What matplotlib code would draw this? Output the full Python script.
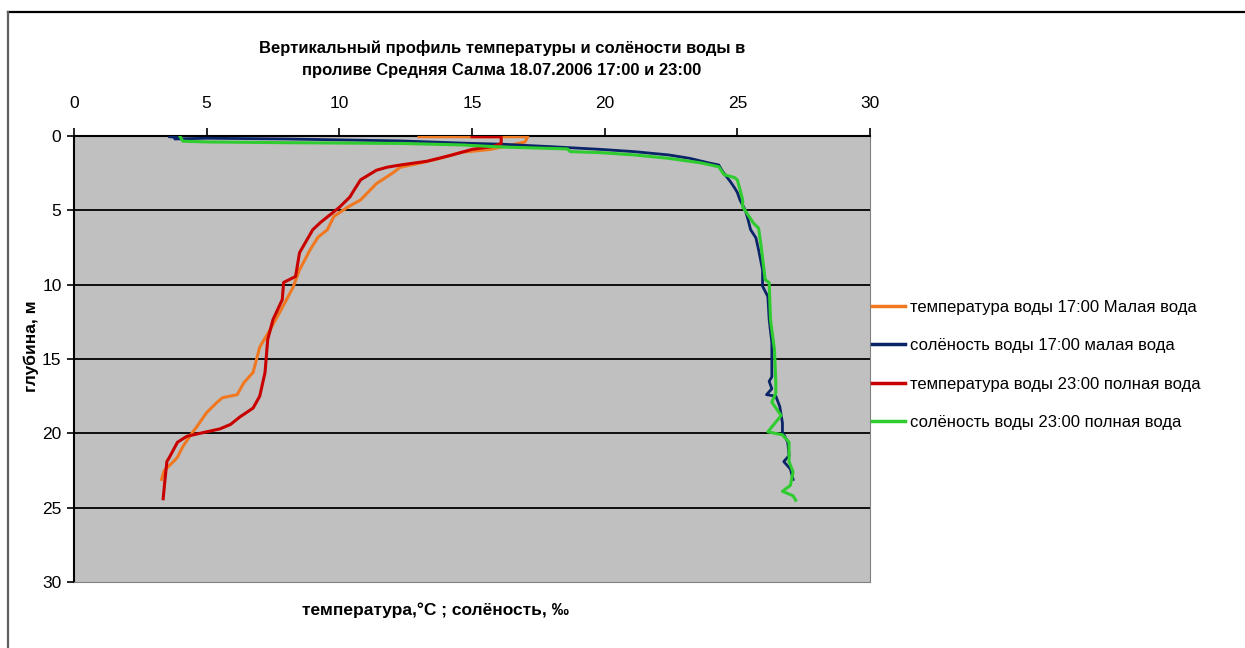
import matplotlib
matplotlib.use('Agg')
import matplotlib.pyplot as plt
from matplotlib.lines import Line2D

plt.rcParams['font.family'] = ['Liberation Sans', 'DejaVu Sans']

# температура воды 17:00 (малая вода)
t17 = [13.0, 17.1, 17.0, 16.5, 15.7, 14.6, 13.8, 13.1, 12.3, 12.0, 11.4, 10.8, 10.3, 9.8, 9.55,
       9.2, 8.9, 8.5, 8.25, 7.8, 7.4, 7.0, 6.75, 6.4, 6.15, 5.6, 5.4, 5.0, 4.65, 4.4, 4.1,
       3.9, 3.75, 3.4, 3.3]
d_t17 = [0.05, 0.05, 0.4, 0.6, 0.9, 1.1, 1.5, 1.8, 2.1, 2.5, 3.2, 4.3, 4.8, 5.4, 6.3,
         6.8, 7.65, 9.0, 10.2, 11.7, 13.0, 14.2, 15.9, 16.6, 17.4, 17.6, 17.9, 18.6, 19.5, 20.1, 20.9,
         21.6, 21.9, 22.5, 23.1]

# солёность воды 17:00
s17 = [3.6, 3.9, 3.8, 5.0, 8.0, 12.3, 15.0, 16.1, 18.0, 19.85, 21.1, 22.4, 23.2, 23.9,
       24.3, 24.45, 24.75, 24.9, 25.0, 25.1, 25.3, 25.4, 25.5, 25.7, 25.8, 25.95, 25.95, 26.15,
       26.2, 26.3, 26.3, 26.2, 26.3, 26.1, 26.45, 26.6, 26.7, 26.7, 26.9, 26.95, 26.75, 27.0, 27.1]
d_s17 = [0.05, 0.1, 0.2, 0.15, 0.2, 0.33, 0.5, 0.55, 0.72, 0.9, 1.05, 1.27, 1.5, 1.8,
         1.95, 2.4, 3.1, 3.5, 3.8, 4.3, 5.0, 5.6, 6.3, 6.85, 7.65, 9.0, 10.1, 10.8,
         12.35, 13.9, 16.2, 16.5, 17.0, 17.4, 17.5, 18.2, 19.3, 19.9, 20.6, 21.5, 21.9, 22.4, 23.1]

# температура воды 23:00 (полная вода)
t23 = [15.0, 16.1, 16.1, 15.8, 15.0, 14.2, 13.3, 12.3, 11.8, 11.4, 10.8, 10.5, 10.4, 10.0,
       9.3, 9.0, 8.5, 8.35, 7.9, 7.85, 7.5, 7.3, 7.2, 7.0, 6.75, 6.25, 5.9, 5.5, 4.5, 4.25,
       3.9, 3.6, 3.5, 3.43, 3.36]
d_t23 = [0.05, 0.05, 0.5, 0.7, 0.9, 1.3, 1.7, 1.95, 2.1, 2.3, 2.95, 3.8, 4.1, 4.8,
         5.8, 6.3, 7.85, 9.45, 9.85, 11.0, 12.35, 13.7, 15.9, 17.5, 18.3, 18.9, 19.4, 19.7, 20.1, 20.2,
         20.6, 21.6, 21.9, 23.1, 24.4]

# солёность воды 23:00
s23 = [4.0, 4.1, 5.0, 8.0, 12.3, 14.6, 16.1, 18.6, 18.7, 19.85, 21.1, 22.4, 23.6, 24.3,
       24.5, 24.9, 25.0, 25.1, 25.2, 25.2, 25.6, 25.8, 25.9, 26.05, 26.2, 26.25, 26.4, 26.45,
       26.45, 26.3, 26.65, 26.15, 26.7, 26.95, 26.95, 27.1, 27.0, 26.7, 27.1, 27.2]
d_s23 = [0.05, 0.35, 0.4, 0.45, 0.5, 0.6, 0.74, 0.87, 1.05, 1.12, 1.27, 1.5, 1.8, 2.07,
         2.6, 2.8, 2.95, 3.6, 4.3, 4.76, 5.84, 6.2, 7.45, 9.66, 9.87, 12.35, 14.4, 16.6,
         17.3, 17.9, 18.8, 19.9, 20.1, 20.6, 21.9, 22.6, 23.5, 23.9, 24.2, 24.5]

labels = ['температура воды 17:00 Малая вода',
          'солёность воды 17:00 малая вода',
          'температура воды 23:00 полная вода',
          'солёность воды 23:00 полная вода']
colors = ['#F07820', '#0A2468', '#C80000', '#2ECC2E']

W, H = 1245, 648
fig = plt.figure(figsize=(W / 100, H / 100), dpi=100)
ax = fig.add_axes([74 / W, 1 - 582 / H, (870 - 74) / W, (582 - 136) / H])
ax.set_facecolor('#C0C0C0')

ax.plot(t17, d_t17, color=colors[0], lw=2.2, zorder=3)
ax.plot(s17, d_s17, color=colors[1], lw=2.0, zorder=3)
ax.plot(t23, d_t23, color=colors[2], lw=2.2, zorder=4)
ax.plot(s23, d_s23, color=colors[3], lw=2.2, zorder=4)

ax.set_xlim(0, 30)
ax.set_ylim(30, 0)
ax.set_xticks(range(0, 31, 5))
ax.set_yticks(range(0, 31, 5))
ax.xaxis.tick_top()
ax.tick_params(axis='x', direction='out', length=6, width=1.2, pad=12, labelsize=12.5)
ax.tick_params(axis='y', direction='out', length=5, width=1.2, pad=4, labelsize=12.5)

for y in range(5, 30, 5):
    ax.axhline(y, color='black', lw=1.3, zorder=2)

ax.spines['top'].set_color('black')
ax.spines['left'].set_color('black')
ax.spines['top'].set_linewidth(1.5)
ax.spines['left'].set_linewidth(1.5)
ax.spines['right'].set_color('#808080')
ax.spines['bottom'].set_color('#808080')

fig.text(502 / W, 1 - 48 / H, 'Вертикальный профиль температуры и солёности воды в',
         ha='center', va='center', fontsize=12, fontweight='bold')
fig.text(502 / W, 1 - 70 / H, 'проливе Средняя Салма 18.07.2006 17:00 и 23:00',
         ha='center', va='center', fontsize=12, fontweight='bold')
fig.text(435 / W, 1 - 610 / H, 'температура,°С ; солёность, ‰',
         ha='center', va='center', fontsize=12.5, fontweight='bold')
fig.text(31 / W, 1 - 346 / H, 'глубина, м', rotation=90,
         ha='center', va='center', fontsize=12.5, fontweight='bold')

handles = [Line2D([0], [0], color=c, lw=2.5) for c in colors]
fig.legend(handles, labels, loc='center left', bbox_to_anchor=(872 / W, 1 - 365 / H),
           frameon=False, fontsize=12, handlelength=2.0, handletextpad=0.3,
           labelspacing=1.4, borderaxespad=0, borderpad=0)

# рамка диаграммы
fig.add_artist(Line2D([8 / W, 1], [1 - 12 / H, 1 - 12 / H], transform=fig.transFigure,
                      color='black', lw=1.6))
fig.add_artist(Line2D([8 / W, 8 / W], [1 - 12 / H, 0], transform=fig.transFigure,
                      color='#606060', lw=1.6))

fig.savefig('out.png', dpi=100)
